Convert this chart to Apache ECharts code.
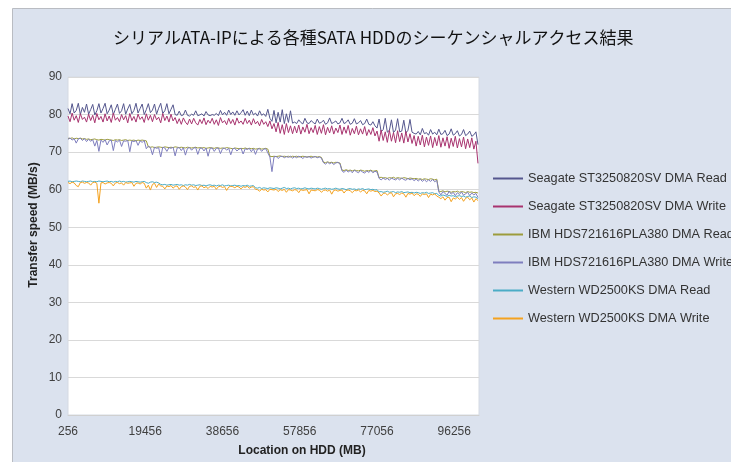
<!DOCTYPE html>
<html>
<head>
<meta charset="utf-8">
<script src="https://cdn.jsdelivr.net/npm/echarts@6/dist/echarts.min.js"></script>
<style>
  html, body { margin: 0; padding: 0; background: #fff; }
  #chart { width: 731px; height: 462px; }
</style>
</head>
<body>
<div id="chart"></div>
<script>
// sampling grid on the disk (MB), one point every 512 MB
const locStart = 256
const locStep = 512
const locCount = 200
const locations = Array.from({ length: locCount }, (_, i) => locStart + i * locStep)

const xTickStart = 256
const xTickStep = 19200
const xMax = 102400

const seriesNames = [
  'Seagate ST3250820SV DMA Read',
  'Seagate ST3250820SV DMA Write',
  'IBM HDS721616PLA380 DMA Read',
  'IBM HDS721616PLA380 DMA Write',
  'Western WD2500KS DMA Read',
  'Western WD2500KS DMA Write'
]

const seagateRead = [
  81.6, 80.2, 82.9, 80.4, 81.1, 83.0, 80.0, 81.9, 80.6, 82.8,
  80.1, 81.3, 82.7, 79.9, 81.0, 82.9, 80.4, 81.6, 83.0, 80.2,
  81.2, 82.6, 80.0, 81.4, 82.8, 80.3, 81.0, 82.9, 80.1, 81.5,
  82.7, 80.2, 81.1, 83.0, 80.4, 81.6, 82.8, 80.0, 81.3, 82.9,
  80.5, 81.2, 82.8, 80.1, 81.7, 83.0, 80.3, 81.0, 82.9, 80.2,
  81.4, 82.6, 80.0, 79.8, 80.9, 79.7, 79.9, 81.2, 79.8, 79.6,
  80.1, 79.8, 81.0, 79.7, 79.9, 80.2, 79.6, 80.8, 79.9, 79.7,
  80.0, 79.8, 80.3, 79.7, 81.1, 79.9, 80.6, 79.8, 81.2, 80.0,
  80.7, 79.8, 81.0, 79.9, 80.5, 81.3, 79.8, 80.9, 79.7, 81.2,
  79.9, 80.4, 79.6, 81.0, 79.8, 80.2, 79.5, 81.4, 79.0, 78.2,
  81.1, 77.8, 80.6, 78.0, 81.3, 77.6, 80.2, 77.9, 81.0, 77.7,
  78.0, 77.6, 78.6, 77.9, 77.5, 79.0, 77.8, 77.6, 78.4, 77.9,
  77.5, 78.8, 77.7, 77.9, 78.5, 77.4, 77.8, 79.1, 77.6, 77.9,
  78.3, 77.5, 77.8, 79.0, 77.6, 77.9, 78.6, 77.4, 77.7, 78.9,
  77.5, 77.8, 78.4, 77.3, 77.6, 78.8, 77.4, 77.2, 78.1, 77.0,
  76.4, 78.8, 75.4, 76.0, 79.0, 75.3, 75.8, 78.6, 75.2, 75.9,
  78.9, 75.4, 75.6, 78.5, 75.1, 75.8, 78.7, 75.3, 75.0, 74.8,
  75.5, 74.6, 76.3, 74.9, 75.2, 74.5, 76.0, 74.8, 75.3, 74.6,
  76.1, 74.7, 74.9, 75.8, 74.4, 74.8, 76.2, 74.5, 74.9, 75.7,
  74.3, 74.7, 76.0, 74.4, 74.8, 75.6, 74.2, 74.6, 75.4, 72.0
]
const seagateWrite = [
  79.6, 78.1, 80.4, 78.5, 79.7, 77.9, 80.2, 78.7, 79.3, 78.0,
  80.1, 78.4, 79.8, 77.8, 80.3, 78.6, 79.5, 78.0, 80.2, 78.3,
  79.6, 77.9, 80.4, 78.5, 79.2, 78.1, 80.0, 78.6, 79.7, 77.8,
  80.3, 78.4, 79.5, 78.0, 80.1, 78.7, 79.4, 77.9, 80.2, 78.5,
  79.8, 78.1, 80.0, 78.6, 79.3, 77.8, 80.3, 78.4, 79.6, 78.0,
  80.1, 78.3, 79.2, 77.6, 78.9, 77.4, 79.1, 78.0, 77.3, 78.8,
  77.5, 79.0, 77.8, 77.2, 78.7, 77.6, 79.1, 77.3, 78.5, 77.7,
  79.0, 77.4, 78.6, 77.1, 79.2, 77.8, 78.4, 77.3, 79.0, 77.6,
  78.7, 77.2, 79.1, 77.7, 78.3, 77.4, 79.0, 77.6, 78.5, 77.2,
  78.9, 77.5, 78.2, 77.0, 78.7, 77.4, 78.1, 76.8, 78.3, 76.2,
  77.6, 75.4, 77.9, 75.0, 77.3, 74.7, 77.6, 75.2, 77.0, 74.9,
  76.9, 75.1, 77.2, 74.8, 76.7, 75.3, 77.4, 74.9, 76.5, 75.2,
  77.1, 74.7, 76.8, 75.0, 77.3, 74.6, 76.6, 75.1, 77.0, 74.8,
  76.4, 75.2, 77.2, 74.7, 76.7, 75.0, 77.1, 74.5, 76.3, 74.9,
  76.9, 74.6, 76.2, 74.8, 76.8, 74.4, 76.0, 74.7, 76.5, 74.3,
  75.6, 72.9, 75.9, 73.1, 75.4, 72.6, 75.8, 72.9, 75.2, 72.5,
  75.7, 72.8, 75.1, 72.4, 75.5, 72.7, 74.9, 72.3, 74.4, 71.6,
  74.2, 71.9, 74.5, 71.4, 74.0, 71.8, 74.3, 71.2, 73.9, 71.7,
  74.4, 71.3, 73.8, 71.6, 74.1, 71.0, 73.7, 71.5, 74.2, 71.1,
  73.6, 71.4, 74.0, 70.9, 73.5, 71.2, 73.8, 70.8, 72.9, 67.0
]
const ibmRead = [
  73.7, 73.6, 73.8, 73.5, 73.7, 73.6, 73.7, 73.5, 73.6, 73.4,
  73.5, 73.3, 73.4, 73.5, 73.3, 73.2, 73.4, 73.3, 73.2, 73.4,
  73.3, 73.2, 73.1, 73.3, 73.2, 73.3, 73.1, 73.2, 73.3, 73.1,
  73.2, 73.1, 73.2, 73.0, 73.2, 73.1, 73.2, 73.1, 73.0, 71.4,
  71.3, 71.4, 71.2, 71.3, 71.4, 71.3, 71.2, 71.4, 71.3, 71.2,
  71.3, 71.2, 71.4, 71.3, 71.2, 71.3, 71.2, 71.1, 71.3, 71.2,
  71.1, 71.2, 71.3, 71.1, 71.2, 71.1, 71.2, 71.0, 71.1, 71.2,
  71.1, 71.0, 71.2, 71.1, 71.0, 71.1, 71.0, 71.2, 71.1, 71.0,
  70.9, 71.1, 71.0, 70.9, 71.0, 70.9, 71.1, 70.9, 71.0, 70.9,
  71.0, 70.8, 70.9, 71.0, 70.8, 70.9, 71.0, 70.8, 68.9, 68.8,
  68.9, 68.8, 68.9, 69.0, 68.8, 68.9, 68.8, 68.9, 68.7, 68.9,
  68.8, 68.9, 68.7, 68.8, 68.9, 68.8, 68.7, 68.8, 68.9, 68.7,
  68.8, 68.7, 68.8, 68.6, 67.3, 67.2, 67.4, 67.2, 67.3, 67.1,
  67.3, 67.2, 67.1, 65.2, 65.1, 65.3, 65.1, 65.2, 65.0, 65.2,
  65.1, 65.0, 65.2, 65.1, 64.9, 65.1, 65.0, 65.2, 64.9, 65.0,
  65.1, 63.2, 63.3, 63.1, 63.2, 63.0, 63.2, 63.1, 63.3, 63.0,
  63.2, 63.1, 63.0, 63.2, 63.1, 62.9, 63.1, 63.0, 62.9, 63.0,
  62.8, 62.9, 62.7, 62.9, 62.8, 62.7, 62.9, 62.8, 62.6, 62.8,
  59.6, 59.5, 59.7, 59.4, 59.6, 59.5, 59.3, 59.5, 59.4, 59.6,
  59.3, 59.5, 59.4, 59.2, 59.5, 59.3, 59.4, 59.2, 59.3, 59.1
]
const ibmWrite = [
  73.4, 73.8, 73.2, 73.6, 72.4, 73.5, 73.7, 73.1, 73.6, 72.8,
  73.4, 72.9, 73.3, 71.6, 73.1, 70.2, 73.2, 72.6, 73.3, 71.9,
  73.0, 73.2, 70.4, 73.1, 72.7, 73.2, 71.5, 73.0, 72.9, 73.1,
  70.1, 73.0, 72.8, 73.1, 71.8, 73.0, 72.6, 73.1, 70.9, 71.6,
  71.2, 69.3, 71.3, 71.0, 71.2, 68.7, 71.3, 71.1, 70.2, 71.2,
  71.0, 71.3, 69.0, 71.1, 71.2, 70.4, 71.2, 69.2, 71.0, 71.2,
  70.5, 71.1, 71.2, 69.4, 71.0, 71.1, 70.3, 71.1, 68.9, 71.0,
  71.1, 70.2, 71.0, 71.1, 69.6, 70.9, 71.1, 70.5, 71.0, 69.3,
  70.9, 71.0, 70.3, 70.8, 71.0, 69.5, 70.9, 70.7, 71.0, 70.1,
  70.9, 69.4, 70.8, 70.9, 70.2, 70.8, 70.9, 69.8, 68.7, 64.8,
  68.7, 68.9, 68.3, 68.8, 68.9, 68.5, 68.8, 68.6, 68.9, 68.4,
  68.8, 68.5, 68.9, 68.7, 68.3, 68.8, 68.6, 68.8, 68.4, 68.7,
  68.8, 68.5, 68.7, 68.4, 67.2, 66.8, 67.3, 66.9, 67.2, 66.7,
  67.1, 67.3, 66.9, 65.0, 64.6, 65.2, 64.7, 65.1, 64.5, 65.2,
  64.8, 64.5, 65.1, 64.7, 64.4, 65.0, 64.6, 65.1, 64.5, 64.9,
  64.7, 63.0, 62.6, 63.1, 62.7, 63.0, 62.5, 63.1, 62.8, 62.6,
  63.0, 62.6, 63.1, 62.7, 62.5, 63.0, 62.6, 62.9, 62.4, 62.8,
  62.3, 62.8, 62.2, 62.7, 62.1, 62.6, 62.2, 62.7, 62.1, 62.5,
  59.4, 58.6, 59.5, 59.0, 58.5, 59.6, 58.8, 59.3, 58.4, 59.2,
  58.7, 59.4, 58.5, 58.9, 59.3, 58.4, 59.1, 58.6, 59.0, 57.9
]
const westernRead = [
  62.2, 62.3, 62.1, 62.2, 62.3, 62.2, 62.1, 62.3, 62.2, 62.1,
  62.2, 62.3, 62.1, 62.2, 62.1, 62.3, 62.2, 62.1, 62.2, 62.3,
  62.1, 62.2, 62.0, 62.2, 62.1, 62.3, 62.1, 62.2, 62.0, 62.1,
  62.2, 62.1, 62.0, 62.2, 62.1, 62.0, 62.1, 62.2, 61.9, 61.7,
  62.0, 62.1, 61.9, 62.0, 61.8, 61.4, 61.3, 61.4, 61.2, 61.3,
  61.4, 61.2, 61.3, 61.4, 61.2, 61.3, 61.1, 61.3, 61.2, 61.4,
  61.2, 61.3, 61.1, 61.2, 61.3, 61.1, 61.2, 61.0, 61.2, 61.3,
  61.1, 61.2, 61.0, 61.2, 61.1, 61.3, 61.0, 61.1, 61.2, 61.0,
  61.1, 61.2, 61.0, 61.1, 60.9, 61.1, 61.0, 61.2, 60.9, 61.0,
  61.1, 60.5, 60.4, 60.6, 60.3, 60.5, 60.4, 60.3, 60.5, 60.4,
  60.3, 60.5, 60.4, 60.2, 60.4, 60.6, 60.3, 60.4, 60.2, 60.4,
  60.5, 60.3, 60.4, 60.2, 60.3, 60.5, 60.3, 60.2, 60.4, 60.3,
  60.2, 60.4, 60.3, 60.1, 60.3, 60.4, 60.2, 60.3, 60.1, 60.2,
  60.4, 60.2, 60.1, 60.3, 60.2, 60.0, 60.2, 60.3, 60.1, 60.2,
  60.0, 60.2, 60.1, 60.3, 60.0, 60.1, 60.2, 60.0, 60.1, 59.9,
  60.0, 59.4, 59.5, 59.3, 59.4, 59.6, 59.3, 59.4, 59.5, 59.2,
  59.4, 59.3, 59.5, 59.2, 59.3, 59.4, 59.2, 59.3, 59.1, 59.3,
  59.2, 59.0, 59.2, 59.1, 59.3, 59.0, 59.1, 59.2, 58.9, 59.0,
  58.5, 58.3, 58.6, 58.4, 58.2, 58.5, 58.3, 58.4, 58.1, 58.3,
  58.4, 58.2, 58.3, 58.0, 58.2, 58.3, 57.9, 58.1, 58.0, 57.6
]
const westernWrite = [
  61.9, 61.6, 62.0, 61.8, 61.1, 60.8, 61.9, 62.0, 61.7, 61.9,
  61.8, 61.2, 61.9, 62.0, 61.7, 56.4, 61.8, 61.9, 61.5, 61.8,
  61.9, 61.7, 61.0, 61.8, 61.9, 61.6, 61.8, 61.2, 61.9, 61.7,
  61.8, 61.9, 60.9, 61.7, 61.8, 61.5, 61.9, 61.7, 60.4, 61.2,
  59.9, 61.4, 61.7, 60.6, 61.5, 61.0, 60.9, 60.2, 61.0, 60.8,
  61.1, 60.4, 60.9, 61.0, 60.1, 60.8, 61.0, 60.7, 60.0, 60.9,
  61.0, 60.6, 60.8, 59.9, 60.9, 61.0, 60.5, 60.8, 60.3, 60.9,
  60.7, 60.9, 60.1, 60.8, 60.9, 60.6, 60.8, 59.8, 60.7, 60.9,
  60.8, 60.5, 60.9, 60.7, 60.2, 60.8, 60.6, 60.9, 60.4, 60.7,
  60.8, 60.1, 60.0, 59.6, 60.1, 59.9, 60.0, 59.4, 60.1, 60.0,
  59.9, 60.1, 59.5, 60.0, 59.8, 60.1, 59.3, 60.0, 59.9, 59.7,
  60.0, 59.9, 59.2, 60.0, 59.8, 59.9, 60.0, 58.9, 59.9, 59.8,
  59.7, 60.0, 59.9, 59.3, 59.8, 59.9, 59.6, 59.9, 58.8, 59.8,
  59.9, 59.6, 59.8, 59.9, 59.1, 59.8, 59.9, 59.7, 59.2, 59.8,
  59.7, 59.9, 59.4, 59.8, 59.7, 58.9, 59.8, 59.6, 59.8, 59.5,
  59.6, 59.1, 58.3, 59.0, 59.1, 58.6, 59.0, 59.2, 58.1, 58.9,
  59.0, 58.7, 59.1, 58.9, 58.0, 59.0, 58.8, 59.1, 58.4, 58.9,
  58.8, 58.2, 58.9, 58.7, 58.9, 57.9, 58.8, 58.6, 58.9, 58.3,
  58.0, 57.6, 58.1, 57.2, 57.9, 58.0, 56.8, 57.8, 57.5, 58.0,
  57.4, 57.9, 56.9, 57.7, 58.0, 57.3, 57.8, 56.7, 57.6, 57.1
]

const seriesValues = [seagateRead, seagateWrite, ibmRead, ibmWrite, westernRead, westernWrite]
const seriesColors = ['#55578e', '#a8336f', '#9c9c3c', '#7e7ebe', '#4bacc6', '#f4a21f']

const latin = '"Liberation Sans", Arial, sans-serif'

const chart = echarts.init(document.getElementById('chart'))
chart.setOption({
  backgroundColor: '#ffffff',
  animation: false,
  color: seriesColors,
  title: {
    text: 'シリアルATA-IPによる各種SATA HDDのシーケンシャルアクセス結果',
    left: 113,
    top: 28,
    padding: 0,
    textStyle: {
      fontFamily: '"Noto Sans CJK JP", sans-serif',
      fontSize: 17,
      fontWeight: 'normal',
      color: '#111',
      lineHeight: 20
    }
  },
  graphic: [
    {
      type: 'rect',
      z: -100,
      shape: { x: 12.5, y: 8.5, width: 740, height: 470 },
      style: { fill: '#dbe2ee', stroke: '#b9bcc2', lineWidth: 1 }
    },
    {
      type: 'text',
      x: 302,
      y: 451,
      style: {
        text: 'Location on HDD (MB)',
        font: 'bold 12px ' + latin,
        fill: '#222',
        textAlign: 'center',
        textVerticalAlign: 'middle'
      }
    },
    {
      type: 'text',
      x: 34,
      y: 225,
      rotation: Math.PI / 2,
      style: {
        text: 'Transfer speed (MB/s)',
        font: 'bold 12px ' + latin,
        fill: '#222',
        textAlign: 'center',
        textVerticalAlign: 'middle'
      }
    }
  ],
  legend: {
    orient: 'vertical',
    left: 487,
    top: 167,
    itemWidth: 30,
    itemHeight: 14,
    itemGap: 15,
    data: seriesNames,
    itemStyle: { opacity: 0 },
    textStyle: { fontFamily: latin, fontSize: 12.7, color: '#333' }
  },
  grid: {
    left: 68,
    top: 77,
    width: 411,
    height: 338,
    show: true,
    backgroundColor: '#ffffff',
    borderColor: '#d5dae3',
    borderWidth: 1
  },
  xAxis: {
    type: 'value',
    min: xTickStart,
    max: xMax,
    interval: xTickStep,
    axisLine: { show: true, lineStyle: { color: '#d0d0d0' } },
    axisTick: { show: false },
    splitLine: { show: false },
    axisLabel: {
      showMaxLabel: false,
      margin: 11,
      formatter: v => String(v),
      fontFamily: latin,
      fontSize: 12,
      color: '#404040'
    }
  },
  yAxis: {
    type: 'value',
    min: 0,
    max: 90,
    interval: 10,
    axisLine: { show: false },
    axisTick: { show: false },
    splitLine: { lineStyle: { color: '#d9d9d9', width: 1 } },
    axisLabel: {
      margin: 6,
      fontFamily: latin,
      fontSize: 12,
      color: '#404040'
    }
  },
  series: seriesNames.map((name, k) => ({
    name: name,
    type: 'line',
    symbol: 'none',
    lineStyle: { width: 1 },
    data: locations.map((x, i) => [x, seriesValues[k][i]])
  }))
})
</script>
</body>
</html>
